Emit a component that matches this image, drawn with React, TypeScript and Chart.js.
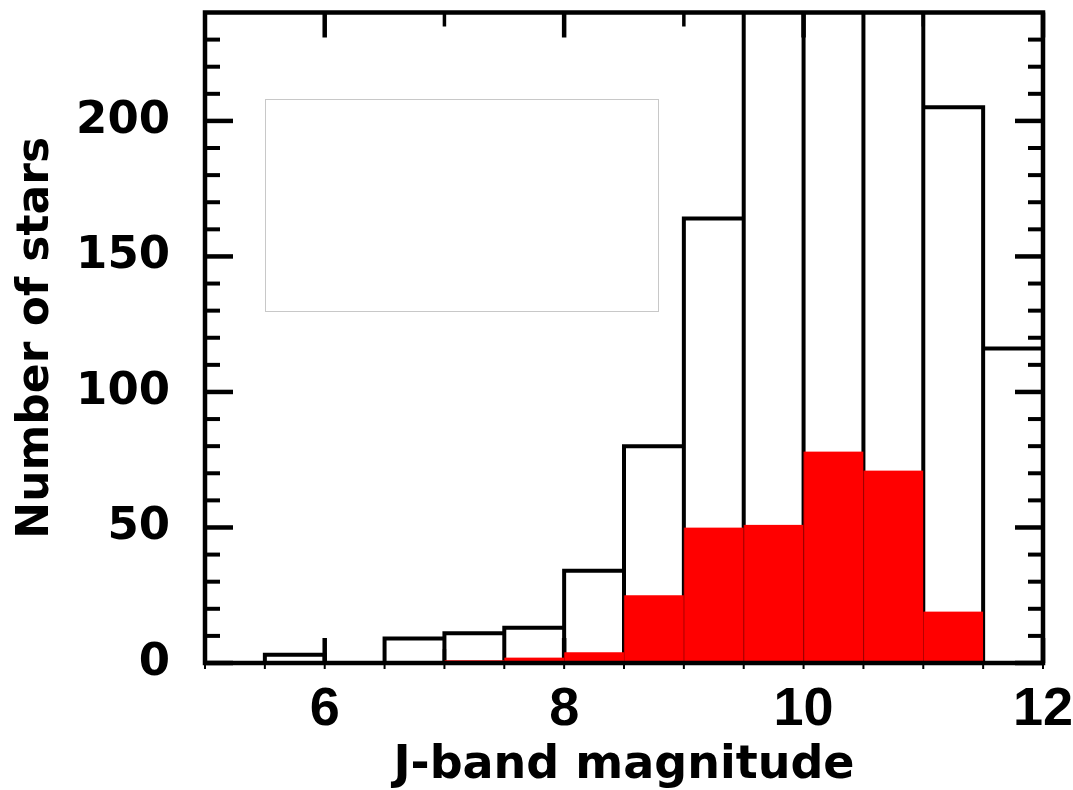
import React, { useEffect, useRef } from 'react';
import { Chart, registerables } from 'chart.js';

Chart.register(...registerables);

// Histogram bins (lower edge of each 0.5 mag bin)
const BIN_START = [5.0, 5.5, 6.0, 6.5, 7.0, 7.5, 8.0, 8.5, 9.0, 9.5, 10.0, 10.5, 11.0, 11.5];
const BIN_WIDTH = 0.5;
// Total number of stars per bin (black outline); three bins run off the top of the plot
const ALL_STARS = [0, 3, 0, 9, 11, 13, 34, 80, 164, 262, 300, 276, 205, 116];
// Sub-sample per bin (red filled)
const SELECTED_STARS = [0, 0, 0, 0, 1, 2, 4, 25, 50, 51, 78, 71, 19, 0];

const X_RANGE = [5, 12];
const Y_RANGE = [0, 240];
const X_TICK_LABELS = [6, 8, 10, 12];
const X_MINOR_TICKS = [7, 9, 11];
const Y_TICK_LABELS = [0, 50, 100, 150, 200];
const Y_MINOR_TICKS = [10, 20, 30, 40, 60, 70, 80, 90, 110, 120, 130, 140, 160, 170, 180, 190, 210, 220, 230];
const X_TITLE = 'J-band magnitude';
const Y_TITLE = 'Number of stars';
// empty (legend) box, in data units
const LEGEND_BOX_X = [5.5, 8.78];
const LEGEND_BOX_Y = [130, 208];

const idlAxes = {
  id: 'idlAxes',
  beforeDatasetsDraw(chart: any) {
    const { ctx, chartArea: a, scales } = chart;
    const x = scales.x;
    const y = scales.y;
    ctx.save();
    ctx.strokeStyle = '#000';
    ctx.lineCap = 'butt';
    const seg = (x1: number, y1: number, x2: number, y2: number, w: number) => {
      ctx.lineWidth = w;
      ctx.beginPath();
      ctx.moveTo(x1, y1);
      ctx.lineTo(x2, y2);
      ctx.stroke();
    };
    X_TICK_LABELS.forEach((v) => {
      const px = x.getPixelForValue(v);
      seg(px, a.bottom, px, a.bottom - 25, 4.5);
      seg(px, a.top, px, a.top + 25, 4.5);
    });
    X_MINOR_TICKS.forEach((v) => {
      const px = x.getPixelForValue(v);
      seg(px, a.bottom, px, a.bottom - 14, 3.5);
      seg(px, a.top, px, a.top + 14, 3.5);
    });
    Y_TICK_LABELS.forEach((v) => {
      const py = y.getPixelForValue(v);
      seg(a.left, py, a.left + 28, py, 4.5);
      seg(a.right, py, a.right - 28, py, 4.5);
    });
    Y_MINOR_TICKS.forEach((v) => {
      const py = y.getPixelForValue(v);
      seg(a.left, py, a.left + 15, py, 4);
      seg(a.right, py, a.right - 15, py, 4);
    });
    const edges = BIN_START.concat([BIN_START[BIN_START.length - 1] + BIN_WIDTH]);
    edges.forEach((v) => {
      const px = x.getPixelForValue(v);
      seg(px, a.bottom, px, a.bottom + 6, 2);
    });
    ctx.restore();
  },
  afterDatasetsDraw(chart: any) {
    const { ctx, chartArea: a, scales } = chart;
    const x = scales.x;
    const y = scales.y;
    ctx.save();
    ctx.strokeStyle = '#000';
    ctx.lineWidth = 4.5;
    ctx.strokeRect(a.left, a.top, a.right - a.left, a.bottom - a.top);
    const bx0 = Math.round(x.getPixelForValue(LEGEND_BOX_X[0])) + 0.5;
    const bx1 = Math.round(x.getPixelForValue(LEGEND_BOX_X[1])) + 0.5;
    const by0 = Math.round(y.getPixelForValue(LEGEND_BOX_Y[1])) + 0.5;
    const by1 = Math.round(y.getPixelForValue(LEGEND_BOX_Y[0])) + 0.5;
    ctx.strokeStyle = '#c8c8c8';
    ctx.lineWidth = 1;
    ctx.strokeRect(bx0, by0, bx1 - bx0, by1 - by0);
    ctx.restore();
  },
};

const zeroPad = (s: any) => {
  s.paddingLeft = 0;
  s.paddingRight = 0;
  s.paddingTop = 0;
  s.paddingBottom = 0;
};

export default function App() {
  const ref = useRef<HTMLCanvasElement>(null);

  useEffect(() => {
    if (!ref.current) return;
    const outline: { x: number; y: number }[] = [];
    BIN_START.forEach((lo, i) => {
      const hi = lo + BIN_WIDTH;
      outline.push({ x: lo, y: 0 }, { x: lo, y: ALL_STARS[i] }, { x: hi, y: ALL_STARS[i] }, { x: hi, y: 0 });
    });
    const redBars = BIN_START.map((lo, i) => ({ x: lo + BIN_WIDTH / 2, y: SELECTED_STARS[i] }));

    const chart = new Chart(ref.current, {
      type: 'bar',
      data: {
        datasets: [
          {
            type: 'bar',
            label: 'selected',
            data: redBars as any,
            backgroundColor: '#ff0000',
            borderColor: '#b40000',
            borderWidth: { left: 1, right: 0, top: 0, bottom: 0 } as any,
            borderSkipped: false as any,
            barPercentage: 1,
            categoryPercentage: 1,
            order: 0,
          },
          {
            type: 'line',
            label: 'all',
            data: outline as any,
            borderColor: '#000',
            borderWidth: 4,
            pointRadius: 0,
            tension: 0,
            fill: false,
            borderJoinStyle: 'miter',
            borderCapStyle: 'butt',
            order: 1,
          } as any,
        ],
      },
      options: {
        animation: false,
        responsive: true,
        maintainAspectRatio: false,
        layout: { padding: { left: 0, right: 30, top: 12.5, bottom: 0 } },
        plugins: { legend: { display: false }, tooltip: { enabled: false } },
        scales: {
          x: {
            type: 'linear',
            min: X_RANGE[0],
            max: X_RANGE[1],
            offset: false,
            grid: { display: false, drawTicks: false, offset: false },
            border: { display: false },
            afterBuildTicks: (s: any) => {
              s.ticks = X_TICK_LABELS.map((v) => ({ value: v }));
            },
            afterFit: (s: any) => {
              s.height = 127;
              zeroPad(s);
            },
            ticks: {
              color: '#000',
              padding: 15,
              autoSkip: false,
              maxRotation: 0,
              font: { family: 'Liberation Sans', weight: 'bold', size: 54 },
            },
            title: {
              display: true,
              text: X_TITLE,
              color: '#000',
              font: { family: 'DejaVu Sans', weight: 'bold', size: 46, lineHeight: 1 },
              padding: { top: 0, bottom: 1 },
            },
          },
          y: {
            type: 'linear',
            min: Y_RANGE[0],
            max: Y_RANGE[1],
            grid: { display: false, drawTicks: false },
            border: { display: false },
            afterBuildTicks: (s: any) => {
              s.ticks = Y_TICK_LABELS.map((v) => ({ value: v }));
            },
            afterFit: (s: any) => {
              s.width = 205;
              zeroPad(s);
            },
            ticks: {
              color: '#000',
              padding: 35,
              autoSkip: false,
              font: { family: 'DejaVu Sans', weight: 'bold', size: 45 },
            },
            title: {
              display: true,
              text: Y_TITLE,
              color: '#000',
              font: { family: 'DejaVu Sans', weight: 'bold', size: 44, lineHeight: 1 },
              padding: { top: 15, bottom: 0 },
            },
          },
        },
      },
      plugins: [idlAxes],
    });
    return () => chart.destroy();
  }, []);

  return (
    <div style={{ position: 'absolute', left: 0, top: 0, width: 1073, height: 790, background: '#fff' }}>
      <canvas ref={ref} />
    </div>
  );
}
